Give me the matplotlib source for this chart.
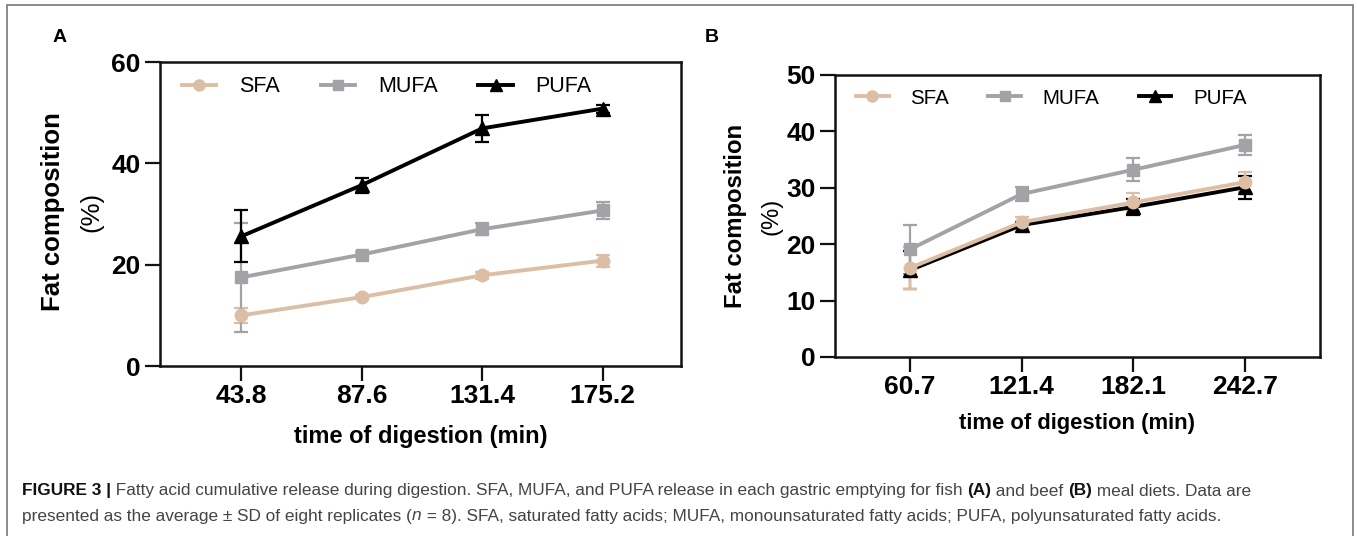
import matplotlib
matplotlib.use("Agg")
import matplotlib.pyplot as plt
from matplotlib.lines import Line2D
from matplotlib.patches import Rectangle

plt.rcParams['font.family'] = ['Liberation Sans', 'DejaVu Sans']

W, H = 1357, 536

# ---------------- data ----------------
series = ["SFA", "MUFA", "PUFA"]

time_a = [43.8, 87.6, 131.4, 175.2]
sfa_a = [10.0, 13.6, 17.9, 20.8]
sfa_a_sd = [1.5, 0.4, 0.7, 1.2]
mufa_a = [17.5, 22.0, 27.0, 30.7]
mufa_a_sd = [10.8, 0.5, 1.2, 1.6]
pufa_a = [25.6, 35.7, 46.9, 50.8]
pufa_a_sd = [5.1, 1.5, 2.7, 0.8]

time_b = [60.7, 121.4, 182.1, 242.7]
sfa_b = [15.8, 23.9, 27.4, 31.0]
sfa_b_sd = [3.7, 1.0, 1.6, 1.8]
mufa_b = [19.1, 28.9, 33.2, 37.6]
mufa_b_sd = [4.3, 1.2, 2.0, 1.8]
pufa_b = [15.4, 23.4, 26.6, 30.1]
pufa_b_sd = [3.4, 0.5, 1.4, 2.0]

yticks_a = [0, 20, 40, 60]
yticks_b = [0, 10, 20, 30, 40, 50]

colors = {"SFA": "#dcbea4", "MUFA": "#a3a3a7", "PUFA": "#000000"}
markers = {"SFA": "o", "MUFA": "s", "PUFA": "^"}
msize = {"SFA": 9, "MUFA": 8.5, "PUFA": 10}

fig = plt.figure(figsize=(W / 100, H / 100), dpi=100)


def px_axes(l, t, r, b):
    return fig.add_axes([l / W, 1 - b / H, (r - l) / W, (b - t) / H])


def draw_panel(ax, t, data, yticks, xlim, ylim, order):
    for name in order:
        y, sd = data[name]
        ax.errorbar(t, y, yerr=sd, color=colors[name], lw=2.8,
                    marker=markers[name], ms=msize[name], mec=colors[name],
                    mfc=colors[name], elinewidth=1.6, capsize=5, capthick=1.6,
                    label=name, clip_on=False)
    ax.set_xlim(*xlim)
    ax.set_ylim(*ylim)
    ax.set_xticks(t)
    ax.set_xticklabels([f"{v:.1f}" for v in t])
    ax.set_yticks(yticks)
    for s in ax.spines.values():
        s.set_linewidth(1.8)
        s.set_color("#111111")
    ax.tick_params(axis='both', direction='out', width=1.6, length=11,
                   labelsize=19, color="#111111")
    ax.tick_params(axis='y', pad=3)
    ax.tick_params(axis='x', pad=2)
    for lab in ax.get_xticklabels() + ax.get_yticklabels():
        lab.set_fontweight('bold')


# ---------------- panel A ----------------
axA = px_axes(160, 62, 681, 366)
dataA = {"SFA": (sfa_a, sfa_a_sd), "MUFA": (mufa_a, mufa_a_sd), "PUFA": (pufa_a, pufa_a_sd)}
draw_panel(axA, time_a, dataA, yticks_a, (14.2, 203.7), (0, 60), ["SFA", "MUFA", "PUFA"])

# ---------------- panel B ----------------
axB = px_axes(835, 75, 1320, 357)
dataB = {"SFA": (sfa_b, sfa_b_sd), "MUFA": (mufa_b, mufa_b_sd), "PUFA": (pufa_b, pufa_b_sd)}
draw_panel(axB, time_b, dataB, yticks_b, (19.9, 283.5), (0, 50), ["PUFA", "SFA", "MUFA"])

# legends
def make_legend(ax, x0, yc, fs):
    handles = [Line2D([], [], color=colors[n], lw=2.8, marker=markers[n],
                      ms=msize[n] - 1, mec=colors[n], mfc=colors[n]) for n in series]
    leg = ax.legend(handles, series, ncol=3, frameon=False, loc='center left',
                    bbox_to_anchor=(x0 / W, 1 - yc / H), bbox_transform=fig.transFigure,
                    fontsize=fs, handlelength=1.6, handletextpad=1.05,
                    columnspacing=1.9, borderpad=0, borderaxespad=0)
    return leg

make_legend(axA, 182, 87, 15.5)
make_legend(axB, 856, 98, 14.8)

# axis labels
for xc, yc, fs in [(53, 212, 18.5), (735, 216, 17.2)]:
    fig.text(xc / W, 1 - yc / H, "Fat composition", rotation=90, fontsize=fs,
             fontweight='bold', ha='center', va='center')
for xc, yc, fs in [(91, 212, 18.5), (771, 216, 17.2)]:
    fig.text(xc / W, 1 - yc / H, "(%)", rotation=90, fontsize=fs,
             ha='center', va='center')
fig.text(421 / W, 1 - 437 / H, "time of digestion (min)", fontsize=17,
         fontweight='bold', ha='center', va='center')
fig.text(1077 / W, 1 - 423 / H, "time of digestion (min)", fontsize=15.8,
         fontweight='bold', ha='center', va='center')

fig.text(60 / W, 1 - 37 / H, "A", fontsize=14, fontweight='bold', ha='center', va='center')
fig.text(712 / W, 1 - 37 / H, "B", fontsize=14, fontweight='bold', ha='center', va='center')

# outer frame
fig.add_artist(Rectangle((7 / W, -0.05), (1353 - 7) / W, 1 - 5 / H + 0.05,
                         transform=fig.transFigure, fill=False, ec="#777777", lw=1.2))

# ---------------- caption ----------------
line1 = [("FIGURE 3 |", 'bold', 'normal', "#111111"),
         (" Fatty acid cumulative release during digestion. SFA, MUFA, and PUFA release in each gastric emptying for fish ", 'normal', 'normal', "#444444"),
         ("(A)", 'bold', 'normal', "#111111"),
         (" and beef ", 'normal', 'normal', "#444444"),
         ("(B)", 'bold', 'normal', "#111111"),
         (" meal diets. Data are", 'normal', 'normal', "#444444")]
line2 = [("presented as the average \u00b1 SD of eight replicates (", 'normal', 'normal', "#444444"),
         ("n", 'normal', 'italic', "#444444"),
         (" = 8). SFA, saturated fatty acids; MUFA, monounsaturated fatty acids; PUFA, polyunsaturated fatty acids.", 'normal', 'normal', "#444444")]

renderer = fig.canvas.get_renderer()


def place(parts, x0, yc, size):
    x = x0
    for txt, wt, st, col in parts:
        t = fig.text(x / W, 1 - yc / H, txt, fontsize=size, fontweight=wt,
                     fontstyle=st, color=col, ha='left', va='center')
        bb = t.get_window_extent(renderer=renderer)
        x += bb.width
    return x

cap_size = 12.4
place(line1, 22, 491, cap_size)
place(line2, 22, 516, cap_size)

fig.savefig("out.png", dpi=100)
